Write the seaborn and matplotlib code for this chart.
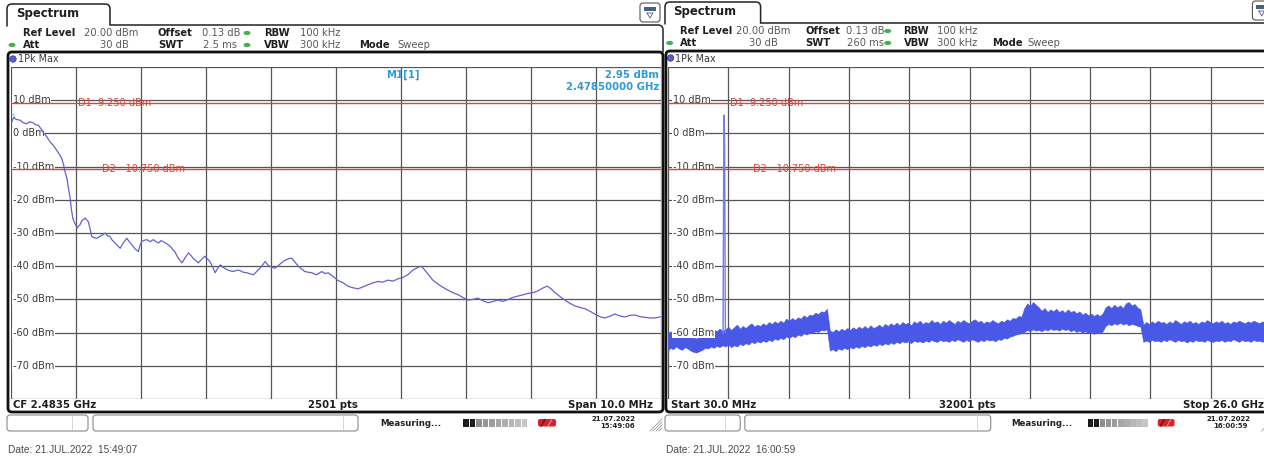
import numpy as np
import pandas as pd
import matplotlib
matplotlib.use("Agg")
import matplotlib.pyplot as plt
from matplotlib.path import Path
from matplotlib.patches import PathPatch, FancyBboxPatch, Rectangle, Ellipse, Circle
from matplotlib.transforms import blended_transform_factory
import seaborn as sns

# ---------------- data ----------------
# Screen 1: 10 MHz span around 2.4835 GHz, offset from the start frequency (MHz) and max-hold level (dBm)
left_start_mhz = 2478.5
left_stop_mhz = 2488.5
left_offset_mhz = [0.00, 0.04, 0.08, 0.14, 0.18, 0.24, 0.29, 0.34, 0.38, 0.42, 0.46, 0.49,
                   0.55, 0.60, 0.65, 0.70, 0.74, 0.78, 0.81, 0.83, 0.86, 0.88, 0.91, 0.93,
                   0.95, 0.98, 1.02, 1.04, 1.06, 1.09, 1.14, 1.17, 1.19, 1.22, 1.24, 1.28,
                   1.32, 1.37, 1.42, 1.45, 1.48, 1.52, 1.55, 1.60, 1.65, 1.68, 1.72, 1.78,
                   1.82, 1.86, 1.91, 1.96, 1.98, 2.01, 2.05, 2.09, 2.14, 2.19, 2.23, 2.27,
                   2.31, 2.34, 2.40, 2.45, 2.49, 2.52, 2.57, 2.63, 2.68, 2.73, 2.77, 2.80,
                   2.85, 2.88, 2.94, 2.98, 3.03, 3.06, 3.11, 3.14, 3.18, 3.22, 3.26, 3.32,
                   3.37, 3.42, 3.48, 3.52, 3.57, 3.63, 3.68, 3.73, 3.78, 3.83, 3.88, 3.91,
                   3.95, 3.98, 4.03, 4.06, 4.11, 4.16, 4.20, 4.24, 4.28, 4.32, 4.37, 4.42,
                   4.48, 4.52, 4.57, 4.63, 4.70, 4.78, 4.83, 4.88, 4.95, 5.03, 5.11, 5.18,
                   5.26, 5.34, 5.42, 5.49, 5.57, 5.65, 5.72, 5.80, 5.88, 5.95, 6.03, 6.11,
                   6.18, 6.26, 6.31, 6.35, 6.42, 6.49, 6.57, 6.65, 6.72, 6.80, 6.88, 6.95,
                   7.03, 7.11, 7.18, 7.26, 7.34, 7.42, 7.49, 7.57, 7.65, 7.72, 7.80, 7.88,
                   7.95, 8.03, 8.11, 8.18, 8.25, 8.31, 8.37, 8.45, 8.52, 8.60, 8.68, 8.75,
                   8.83, 8.91, 8.98, 9.06, 9.14, 9.22, 9.29, 9.37, 9.45, 9.52, 9.60, 9.68,
                   9.75, 9.83, 9.91, 10.00]
left_level_dbm = [2.95, 4.8, 4.2, 4.0, 3.3, 2.9, 3.5, 3.2, 2.6, 2.5, 1.4, 0.5,
                  -1.0, -2.5, -3.6, -5.0, -6.2, -7.5, -9.5, -11.5, -13.5, -16.0, -19.5, -23.0,
                  -25.5, -27.0, -28.5, -27.8, -27.6, -26.3, -25.5, -26.2, -26.6, -29.0, -31.0, -31.4,
                  -31.6, -31.0, -30.4, -30.0, -30.8, -31.0, -32.0, -33.0, -34.0, -34.6, -33.2, -31.6,
                  -32.6, -33.6, -34.8, -35.6, -34.0, -32.6, -32.2, -32.0, -32.6, -32.0, -32.6, -33.0,
                  -32.3, -32.6, -33.3, -34.0, -35.0, -35.6, -37.5, -39.0, -37.4, -36.0, -36.8, -37.6,
                  -38.4, -39.0, -37.8, -37.0, -38.0, -38.6, -40.5, -42.0, -40.6, -39.6, -40.3, -41.0,
                  -41.4, -41.6, -41.2, -41.3, -41.8, -42.0, -42.3, -42.6, -41.6, -40.6, -39.4, -38.6,
                  -39.6, -40.0, -40.4, -40.6, -39.8, -39.0, -38.4, -38.0, -37.7, -37.6, -38.8, -40.0,
                  -41.0, -41.6, -41.8, -42.0, -42.6, -41.6, -42.2, -42.0, -43.0, -44.3, -45.0, -46.0,
                  -46.5, -46.8, -46.2, -45.6, -45.0, -44.6, -44.8, -44.2, -44.5, -43.8, -43.4, -42.5,
                  -41.2, -40.4, -40.0, -40.8, -42.5, -44.2, -45.4, -46.4, -47.2, -48.0, -48.6, -49.4,
                  -50.2, -50.0, -49.6, -50.4, -51.0, -50.6, -50.2, -50.6, -50.0, -49.4, -49.0, -48.6,
                  -48.2, -48.0, -47.4, -46.6, -46.0, -46.8, -48.0, -49.2, -50.2, -51.2, -52.0, -52.4,
                  -52.8, -53.6, -54.4, -55.2, -55.6, -55.0, -54.4, -55.0, -55.3, -54.8, -54.7, -55.2,
                  -55.4, -55.6, -55.6, -55.2]

# Screen 2: 30 MHz .. 26 GHz sweep, min/max envelope of the noise band (GHz, dBm)
right_start_ghz = 0.03
right_stop_ghz = 26.0
right_freq_ghz = [
    0.03, 0.125, 0.25, 0.375, 0.5, 0.625, 0.75, 0.875,
    1.0, 1.125, 1.25, 1.375, 1.5, 1.625, 1.75, 1.875,
    2.0, 2.125, 2.25, 2.375,
    2.5, 2.625, 2.75, 2.875, 3.0, 3.125, 3.25, 3.375,
    3.5, 3.625, 3.75, 3.875, 4.0, 4.125, 4.25, 4.375,
    4.5, 4.625, 4.75, 4.875, 5.0, 5.125, 5.25, 5.375,
    5.5, 5.625, 5.75, 5.875, 6.0, 6.125, 6.25, 6.375,
    6.5, 6.625, 6.75, 6.875,
    7.0, 7.125, 7.25, 7.375, 7.5, 7.625, 7.75, 7.875,
    8.0, 8.125, 8.25, 8.375, 8.5, 8.625, 8.75, 8.875,
    9.0, 9.125, 9.25, 9.375, 9.5, 9.625, 9.75, 9.875,
    10.0, 10.125, 10.25, 10.375, 10.5, 10.625, 10.75, 10.875,
    11.0, 11.125, 11.25, 11.375, 11.5, 11.625, 11.75, 11.875,
    12.0, 12.125, 12.25, 12.375, 12.5, 12.625, 12.75, 12.875,
    13.0, 13.125, 13.25, 13.375, 13.5, 13.625, 13.75, 13.875,
    14.0, 14.125, 14.25, 14.375, 14.5, 14.625, 14.75, 14.875,
    15.0, 15.125, 15.25,
    15.375, 15.5, 15.625, 15.75, 15.875,
    16.0, 16.125, 16.25, 16.375, 16.5, 16.625, 16.75, 16.875,
    17.0, 17.125, 17.25, 17.375, 17.5, 17.625, 17.75, 17.875,
    18.0, 18.125, 18.25, 18.375, 18.5, 18.625, 18.75, 18.875,
    19.0, 19.125, 19.25, 19.375, 19.5, 19.625, 19.75, 19.875,
    20.0, 20.125, 20.25, 20.375,
    20.5, 20.625, 20.75, 20.875,
    21.0, 21.125, 21.25, 21.375, 21.5, 21.625, 21.75, 21.875,
    22.0, 22.125, 22.25, 22.375, 22.5, 22.625, 22.75, 22.875,
    23.0, 23.125, 23.25, 23.375, 23.5, 23.625, 23.75, 23.875,
    24.0, 24.125, 24.25, 24.375, 24.5, 24.625, 24.75, 24.875,
    25.0, 25.125, 25.25, 25.375, 25.5, 25.625, 25.75, 25.875,
    26.0]
right_high_dbm = [
    -60.3, -59.6, -60.2, -59.2, -60.4, -59.8, -59.4, -60.6,
    -60.8, -61.4, -61.8, -61.2, -60.6, -59.8, -60.2, -59.4,
    -59.0, -59.6, -58.8, -59.4,
    -59.0, -58.2, -59.2, -58.4, -57.6, -58.8, -58.0, -58.6,
    -57.8, -57.2, -58.2, -57.6, -58.0, -57.2, -57.8, -56.8,
    -57.4, -56.6, -57.2, -56.4, -57.0, -55.8, -56.4, -55.6,
    -56.2, -55.4, -55.8, -54.8, -55.4, -54.6, -54.8, -54.0,
    -54.4, -53.6, -53.8, -52.8,
    -59.4, -59.8, -59.0, -59.6, -58.8, -59.4, -58.6, -59.2,
    -58.4, -59.0, -58.2, -58.8, -58.0, -58.8, -57.8, -58.6,
    -58.2, -57.6, -58.4, -57.4, -58.0, -57.2, -57.8, -57.0,
    -57.8, -56.8, -57.4, -57.0, -57.8, -56.6, -57.2, -56.4,
    -57.4, -56.8, -57.2, -56.2, -57.0, -56.6, -57.4, -56.4,
    -57.0, -56.2, -56.8, -57.4, -56.4, -57.0, -56.2, -56.8,
    -57.2, -56.4, -56.0, -56.8, -56.4, -57.2, -56.6, -57.0,
    -56.2, -56.8, -57.2, -56.4, -56.8, -56.0, -56.4, -55.6,
    -55.8, -55.0, -55.2,
    -52.6, -51.2, -52.0, -50.8, -51.6,
    -52.4, -53.4, -52.6, -53.8, -53.0, -53.6, -52.8, -53.8,
    -53.2, -54.0, -53.0, -53.8, -53.4, -54.2, -53.6, -54.6,
    -54.0, -54.8, -54.2, -55.0, -54.4, -55.0, -54.2, -52.4,
    -51.8, -52.6, -51.6, -52.4, -51.8, -52.6, -51.2, -50.8,
    -51.8, -51.4, -52.4, -53.0,
    -57.6, -56.8, -57.4, -56.6,
    -57.2, -56.4, -57.0, -56.8, -57.4, -56.6, -57.2, -56.2,
    -56.8, -57.4, -56.6, -57.0, -56.4, -57.2, -56.8, -57.4,
    -56.6, -57.0, -56.2, -56.8, -57.2, -56.6, -57.0, -56.4,
    -57.2, -56.8, -57.4, -56.6, -57.0, -56.4, -56.8, -57.2,
    -56.6, -57.0, -56.4, -56.8, -57.2, -56.6, -57.0, -56.6,
    -56.8]
right_low_dbm = [
    -65.4, -64.6, -65.0, -64.2, -64.8, -65.2, -64.4, -64.8,
    -65.4, -65.8, -66.0, -65.6, -65.2, -64.6, -64.8, -64.2,
    -64.6, -64.0, -64.4, -63.8,
    -64.2, -63.6, -64.4, -63.8, -64.2, -63.4, -63.8, -63.2,
    -63.6, -62.8, -63.2, -62.6, -63.0, -62.4, -62.8, -62.2,
    -62.6, -61.8, -62.2, -61.6, -62.0, -61.2, -61.6, -61.0,
    -61.4, -60.6, -61.0, -60.2, -60.6, -60.0, -60.2, -59.6,
    -59.8, -59.2, -59.4, -59.0,
    -65.4, -65.0, -65.6, -64.8, -65.2, -64.6, -65.0, -64.4,
    -64.8, -64.2, -64.6, -64.0, -64.4, -63.8, -64.2, -63.6,
    -64.0, -63.4, -63.8, -63.2, -63.6, -63.0, -63.4, -62.8,
    -63.2, -62.6, -63.0, -62.6, -63.2, -62.4, -62.8, -62.6,
    -63.0, -62.4, -62.8, -62.2, -62.6, -62.8, -62.2, -62.6,
    -62.4, -62.8, -62.2, -62.6, -62.0, -62.4, -62.8, -62.2,
    -62.6, -62.0, -62.4, -62.8, -62.2, -62.6, -62.0, -62.4,
    -62.2, -62.6, -62.0, -62.2, -61.6, -61.8, -61.2, -61.0,
    -60.6, -60.4, -60.2,
    -59.8, -59.2, -59.6, -59.0, -59.4,
    -59.2, -59.6, -59.0, -59.4, -58.8, -59.2, -59.0, -59.4,
    -58.8, -59.2, -59.0, -59.6, -59.2, -59.8, -59.4, -60.0,
    -59.6, -60.2, -59.8, -60.4, -60.0, -60.2, -59.6, -58.0,
    -57.4, -57.8, -57.2, -57.6, -57.0, -57.6, -57.2, -57.8,
    -57.4, -57.6, -58.0, -58.2,
    -62.8, -62.4, -62.8, -62.2,
    -62.6, -62.4, -62.8, -62.2, -62.6, -62.0, -62.4, -62.8,
    -62.2, -62.6, -62.4, -63.0, -62.4, -62.8, -62.2, -62.6,
    -62.4, -62.8, -62.2, -62.6, -62.8, -62.4, -62.6, -62.2,
    -62.8, -62.4, -62.6, -62.0, -62.4, -62.8, -62.2, -62.6,
    -62.4, -62.8, -62.2, -62.6, -62.4, -62.8, -62.2, -62.6,
    -62.4]
# 2.4 GHz carrier seen in the wide sweep
carrier_freq_ghz = [2.40, 2.43, 2.45, 2.47, 2.50]
carrier_level_dbm = [-60.5, -8.0, 5.5, -4.0, -60.0]

level_ticks = [10, 0, -10, -20, -30, -40, -50, -60, -70]
display_lines = [("D1", 9.25), ("D2", -10.75)]
marker_freq_ghz = 2.4785
marker_level_dbm = 2.95

screens = [
    dict(swt="2.5 ms", bottom_left="CF 2.4835 GHz", pts="2501 pts", bottom_right="Span 10.0 MHz",
         stamp_date="21.07.2022", stamp_time="15:49:06", footer="Date: 21.JUL.2022  15:49:07"),
    dict(swt="260 ms", bottom_left="Start 30.0 MHz", pts="32001 pts", bottom_right="Stop 26.0 GHz",
         stamp_date="21.07.2022", stamp_time="16:00:59", footer="Date: 21.JUL.2022  16:00:59"),
]

# ---------------- figure ----------------
W, H = 1264, 458
sns.set_theme(style="white")
plt.rcParams['font.family'] = ['DejaVu Sans']

fig = plt.figure(figsize=(W / 100, H / 100), dpi=100)
fig.patch.set_facecolor("white")

GRID = "#555555"
RED = "#d6473f"
TRACE_L = "#6262cf"
TRACE_R = "#4a58e8"
MARK = "#2f9ad4"


def px_axes(x0, y0, x1, y1, **kw):
    return fig.add_axes([x0 / W, 1 - y1 / H, (x1 - x0) / W, (y1 - y0) / H], **kw)


def setup_panel(ax, xlo, xhi, label_px, d_px):
    ax.set_xlim(xlo, xhi)
    ax.set_ylim(-80, 20)
    ax.set_xticks(np.linspace(xlo, xhi, 11))
    ax.set_yticks(range(-80, 21, 10))
    ax.grid(True, color=GRID, lw=0.9)
    ax.set_axisbelow(True)
    ax.tick_params(length=0, labelbottom=False, labelleft=False)
    for s in ax.spines.values():
        s.set_visible(False)
    ax.set_facecolor("white")
    ax.set_xlabel("")
    ax.set_ylabel("")
    tr = blended_transform_factory(ax.transAxes, ax.transData)
    for lv in level_ticks:
        ax.text(label_px, lv, f"{lv} dBm", transform=tr, ha="left", va="center",
                fontsize=7.0, color="#3a3a3a", zorder=2,
                bbox=dict(fc="white", ec="none", pad=0.4))
    for (name, lv), dx in zip(display_lines, d_px):
        ax.axhline(lv, color=RED, lw=1.0, zorder=5)
        ax.text(dx, lv, f"{name}  {lv:.3f} dBm", transform=tr, ha="left", va="center",
                fontsize=7.0, color=RED, zorder=6)


# left panel
axL = px_axes(11, 67, 661, 399)
left_df = pd.DataFrame({"f": [left_start_mhz + v for v in left_offset_mhz], "lvl": left_level_dbm})
sns.lineplot(data=left_df, x="f", y="lvl", ax=axL, color=TRACE_L, lw=0.9,
             estimator=None, sort=False, zorder=4)
setup_panel(axL, left_start_mhz, left_stop_mhz, 2 / 650, [67 / 650, 91 / 650])
axL.text(0.5 / 650, marker_level_dbm + 2.2, "1", transform=blended_transform_factory(axL.transAxes, axL.transData),
         fontsize=4.5, color=MARK, ha="left", va="center", zorder=7)

# right panel (runs past the right edge of the canvas)
axR = px_axes(668, 67, 1271, 399)
band = pd.DataFrame({"f": right_freq_ghz * 2, "lvl": right_low_dbm + right_high_dbm})
sns.lineplot(data=band, x="f", y="lvl", ax=axR, color=TRACE_R, lw=0.6,
             errorbar=("pi", 100), err_kws=dict(alpha=1.0, lw=0.4), zorder=4)
carrier = pd.DataFrame({"f": carrier_freq_ghz, "lvl": carrier_level_dbm})
sns.lineplot(data=carrier, x="f", y="lvl", ax=axR, color="#6f7cf2", lw=1.0,
             estimator=None, sort=False, zorder=4)
setup_panel(axR, right_start_ghz, right_stop_ghz, 5 / 603, [62 / 603, 85 / 603])

# ---------------- screen furniture (pixel overlay) ----------------
ov = fig.add_axes([0, 0, 1, 1], zorder=20)
ov.set_xlim(0, W)
ov.set_ylim(H, 0)
ov.axis("off")
ov.patch.set_alpha(0)


def txt(x, y, s, size=7.2, bold=False, color="#222222", ha="left", va="center", family=None):
    kw = dict(fontsize=size, fontweight="bold" if bold else "normal", color=color, ha=ha, va=va)
    if family:
        kw["family"] = family
    ov.text(x, y, s, **kw)


def path(verts, codes, lw=1.0, color="#222222"):
    ov.add_patch(PathPatch(Path(verts, codes), fc="none", ec=color, lw=lw, capstyle="round"))


M, L, C = Path.MOVETO, Path.LINETO, Path.CURVE3


def draw_screen(x0, sc, dy, info):
    # x0 is where the screen's left edge (x=7 in screen units) lands
    X = lambda v: x0 + (v - 7) * sc
    # tab + header frame
    path([(X(7), 26 + dy), (X(7), 9 + dy), (X(7), 4 + dy), (X(12), 4 + dy), (X(105), 4 + dy),
          (X(110), 4 + dy), (X(110), 9 + dy), (X(110), 25 + dy), (X(658), 25 + dy),
          (X(663), 25 + dy), (X(663), 30 + dy), (X(663), 52)],
         [M, L, C, C, L, C, C, L, L, C, C, L], lw=1.1)
    txt(X(16), 14 + dy, "Spectrum", size=8.4, bold=True, color="#1e1e1e")
    # window icon
    ov.add_patch(FancyBboxPatch((X(640), 3 + dy), 20 * sc, 19, boxstyle="round,pad=0,rounding_size=3",
                                fc="white", ec="#555555", lw=0.8))
    ov.add_patch(Rectangle((X(644), 7 + dy), 12 * sc, 3.5, fc="#4a5f86", ec="none"))
    ov.plot([X(647), X(650), X(653), X(647)], [13 + dy, 18 + dy, 13 + dy, 13 + dy], color="#5f6f8f", lw=0.7)
    # settings rows
    r1, r2 = 33 + dy, 45 + dy
    lab, val = "#1f1f1f", "#5a5a5a"
    txt(X(23), r1, "Ref Level", bold=True, color=lab)
    txt(X(84), r1, "20.00 dBm", color=val)
    txt(X(158), r1, "Offset", bold=True, color=lab)
    txt(X(202), r1, "0.13 dB", color=val)
    txt(X(264), r1, "RBW", bold=True, color=lab)
    txt(X(300), r1, "100 kHz", color=val)
    txt(X(23), r2, "Att", bold=True, color=lab)
    txt(X(129), r2, "30 dB", color=val, ha="right")
    txt(X(158), r2, "SWT", bold=True, color=lab)
    txt(X(203), r2, info["swt"], color=val)
    txt(X(264), r2, "VBW", bold=True, color=lab)
    txt(X(300), r2, "300 kHz", color=val)
    txt(X(359), r2, "Mode", bold=True, color=lab)
    txt(X(397), r2, "Sweep", color=val)
    for gx, gy in [(247, r1), (247, r2), (12, r2)]:
        ov.add_patch(Ellipse((X(gx), gy), 7, 4.2, fc="#46b04c", ec="none"))
    # measurement window frame
    ov.add_patch(FancyBboxPatch((X(8), 52 + dy / 2), 655 * sc, 360 - dy / 2,
                                boxstyle="round,pad=0,rounding_size=4", fc="none", ec="#111111", lw=2.0))
    ov.add_patch(Circle((X(13), 59 + dy / 2), 3.2, fc="#5b5bd6", ec="#2c2c6e", lw=0.5))
    txt(X(17.5), 59.5 + dy / 2, "1Pk Max", size=6.9, color="#3a3a3a")
    # bottom info row
    txt(X(13), 405, info["bottom_left"], size=7.3, bold=True, color="#1f1f1f")
    txt(X(333), 405, info["pts"], size=7.3, bold=True, color="#1f1f1f", ha="center")
    txt(X(653), 405, info["bottom_right"], size=7.3, bold=True, color="#1f1f1f", ha="right")
    # status bar
    for bx0, bx1, div in [(7, 88, 72), (93, 358, 343)]:
        ov.add_patch(FancyBboxPatch((X(bx0), 415), (bx1 - bx0) * sc, 16,
                                    boxstyle="round,pad=0,rounding_size=3", fc="white", ec="#8a8a8a", lw=0.8))
        ov.plot([X(div), X(div)], [416, 430], color="#d0d0d0", lw=0.6)
    txt(X(380), 423, "Measuring...", size=6.2, bold=True, color="#222222")
    seg_cols = ["#1c1c1c", "#1c1c1c", "#8e8e8e", "#969696", "#9e9e9e", "#a6a6a6",
                "#aeaeae", "#b6b6b6", "#bebebe", "#c6c6c6"]
    for i, c in enumerate(seg_cols):
        ov.add_patch(Rectangle((X(463 + i * 6.5), 418.5), 5.6 * sc, 8.5, fc=c, ec="none"))
    ov.add_patch(FancyBboxPatch((X(538), 419), 18 * sc, 7.5, boxstyle="round,pad=0,rounding_size=2",
                                fc="#d4232b", ec="none"))
    ov.plot([X(541), X(545)], [426, 419.5], color="#6a0d10", lw=1.0)
    ov.plot([X(548), X(552)], [426, 419.5], color="#f08a8e", lw=0.8)
    txt(X(614), 419, info["stamp_date"], size=5.0, bold=True, color="#222222", ha="center")
    txt(X(635), 426, info["stamp_time"], size=5.0, bold=True, color="#222222", ha="right")
    for k in range(4):
        ov.plot([X(650 + 3 * k), X(662)], [431, 431 - (12 - 3 * k)], color="#9a9a9a", lw=0.6)
    # footer
    txt(X(8), 450, info["footer"], size=7.3, color="#4a4a4a", family="Liberation Sans")


draw_screen(7, 1.0, 0, screens[0])
draw_screen(665, 0.928, -2, screens[1])

# marker readout on the narrow-span screen
txt(386, 75, "M1[1]", size=7.3, bold=True, color=MARK)
txt(659, 75, f"{marker_level_dbm:.2f} dBm", size=7.3, bold=True, color=MARK, ha="right")
txt(659, 87.5, f"{marker_freq_ghz:.8f} GHz", size=7.3, bold=True, color=MARK, ha="right")

fig.savefig("out.png", dpi=100)
